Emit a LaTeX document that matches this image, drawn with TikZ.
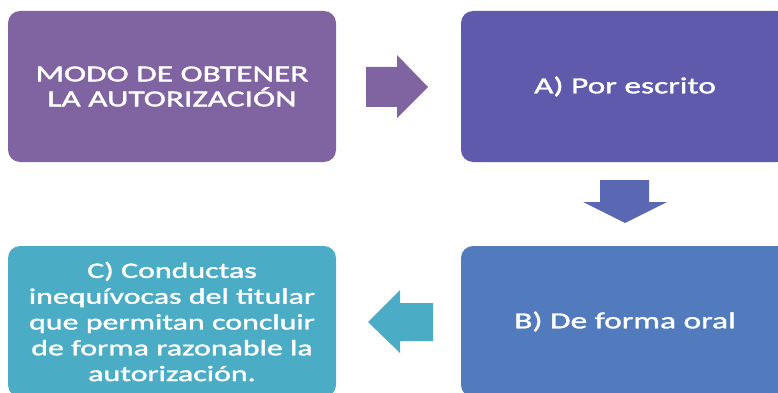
\documentclass[tikz,border=0pt]{standalone}
\usepackage{fontspec}
\setmainfont{Carlito}[FakeStretch=1.45, FakeBold=1.5]
\definecolor{modocol}{HTML}{8064A2}
\definecolor{escritocol}{HTML}{5F5AAB}
\definecolor{oralcol}{HTML}{527BBD}
\definecolor{conductacol}{HTML}{4BACC6}
\definecolor{bajacol}{HTML}{5A68B4}
\tikzset{
  paso/.style={rounded corners=12pt, minimum width=328pt, minimum height=151pt,
    inner sep=0pt, text=white, align=center},
  flecha/.style={draw=none}
}
\begin{document}
\begin{tikzpicture}[x=1pt,y=-1pt]
  \useasboundingbox (0,0) rectangle (778,393);
  \clip (0,0) rectangle (778,393);
  % cajas
  \node[paso, fill=modocol, font=\fontsize{23}{25}\selectfont] (modo) at (172,86.5) {MODO DE OBTENER\\LA AUTORIZACIÓN};
  \node[paso, fill=escritocol, font=\fontsize{23}{25}\selectfont] (escrito) at (625,86.5) {A) Por escrito};
  \node[paso, fill=oralcol, font=\fontsize{23}{25}\selectfont] (oral) at (625,321.5) {B) De forma oral};
  \node[paso, fill=conductacol, font=\fontsize{22}{25.8}\selectfont, text width=320pt] (conducta) at (172,321.5)
    {C) Conductas\\inequívocas del titular\\que permitan concluir\\de forma razonable la\\autorización.};
  % flechas de bloque
  \fill[flecha, modocol] (366,67) -- (397,67) -- (397,55) -- (428,87) -- (397,118) -- (397,107) -- (366,107) -- cycle;
  \fill[flecha, bajacol] (600,180) -- (649,180) -- (649,202) -- (667,202) -- (625,223) -- (583,202) -- (600,202) -- cycle;
  \fill[flecha, conductacol] (433,303) -- (400,303) -- (400,290) -- (368,322) -- (400,353) -- (400,341) -- (433,341) -- cycle;
\end{tikzpicture}
\end{document}
